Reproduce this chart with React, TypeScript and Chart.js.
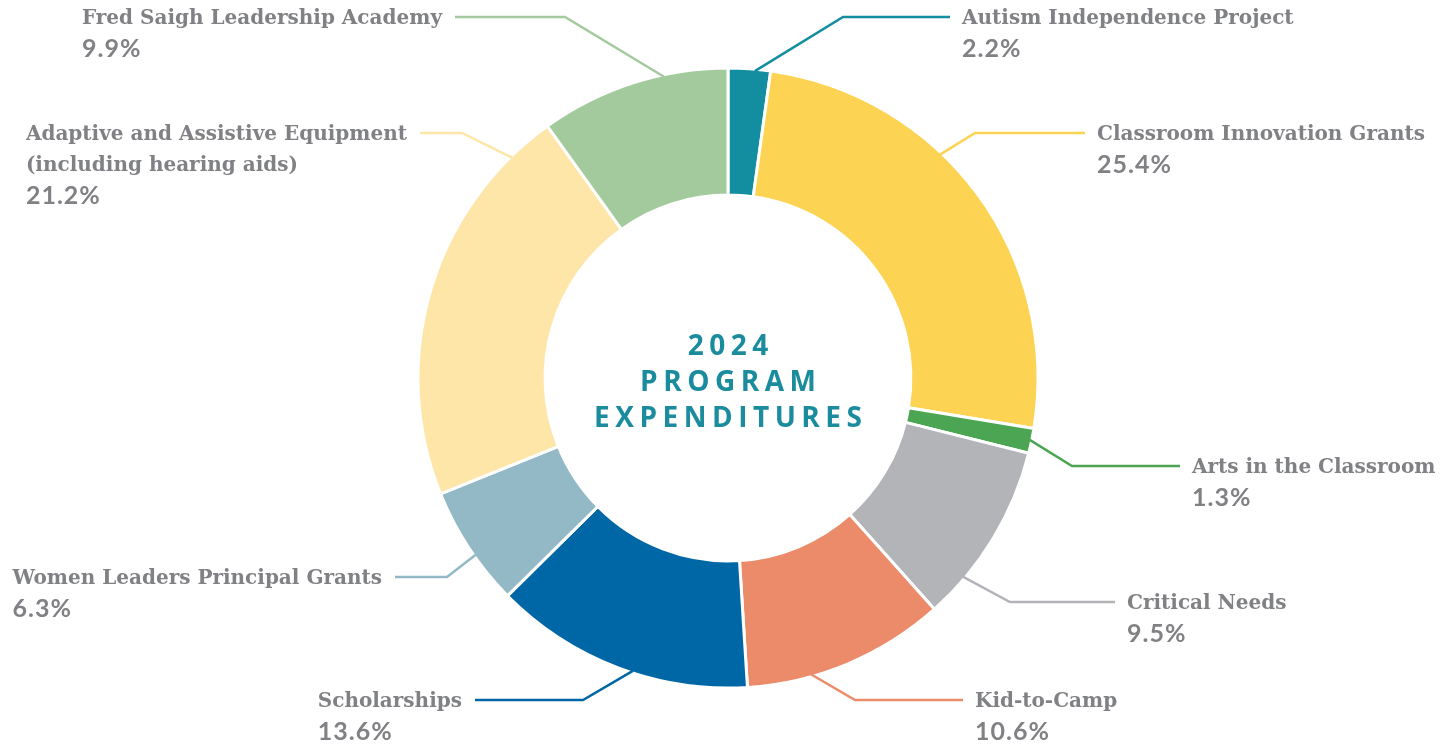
import { useEffect, useRef } from "react";
import { Chart, registerables } from "chart.js";

Chart.register(...registerables);

// ---- data ----
const categories = [
  "Autism Independence Project",
  "Classroom Innovation Grants",
  "Arts in the Classroom",
  "Critical Needs",
  "Kid-to-Camp",
  "Scholarships",
  "Women Leaders Principal Grants",
  "Adaptive and Assistive Equipment (including hearing aids)",
  "Fred Saigh Leadership Academy",
];
const labelLines = [
  ["Autism Independence Project"],
  ["Classroom Innovation Grants"],
  ["Arts in the Classroom"],
  ["Critical Needs"],
  ["Kid-to-Camp"],
  ["Scholarships"],
  ["Women Leaders Principal Grants"],
  ["Adaptive and Assistive Equipment", "(including hearing aids)"],
  ["Fred Saigh Leadership Academy"],
];
const values = [2.2, 25.4, 1.3, 9.5, 10.6, 13.6, 6.3, 21.2, 9.9];
const percentLabels = ["2.2%", "25.4%", "1.3%", "9.5%", "10.6%", "13.6%", "6.3%", "21.2%", "9.9%"];
const centerTitle = ["2024", "PROGRAM", "EXPENDITURES"];

// ---- styles / layout ----
const colors = ["#138DA0", "#FDD353", "#4BA553", "#B3B4B8", "#EC8B6A", "#0067A6", "#93B9C6", "#FEE6A8", "#A3CA9D"];
const leaderAngles = [5, 43.5, 101.6, 130.2, 164.3, 198, 235, 315.6, 348];
const leaderElbows = [
  [843, 17], [975, 133], [1072, 466], [1010, 602], [855, 700],
  [583, 700], [447, 577], [462, 133], [565, 17],
];
const leaderEnds = [950, 1085, 1180, 1115, 963, 475, 395, 420, 455];

const NAME_FONT = "bold 20px 'DejaVu Serif'";
const PCT_FONT = "bold 25px Lato";
const TEXT_GREY = "#808184";
const TITLE_COLOR = "#1A8C9E";

const labelPlugin = {
  id: "leaderLabels",
  afterDraw(chart: any) {
    const ctx = chart.ctx as CanvasRenderingContext2D;
    const meta = chart.getDatasetMeta(0);
    let cx = 0, cy = 0;
    meta.data.forEach((arc: any, i: number) => {
      const p = arc.getProps(["x", "y", "outerRadius"], true);
      cx = p.x; cy = p.y;
      const a = (leaderAngles[i] * Math.PI) / 180;
      const r = p.outerRadius - 2;
      const sx = p.x + r * Math.sin(a);
      const sy = p.y - r * Math.cos(a);
      const [ex, ey] = leaderElbows[i];
      const endX = leaderEnds[i];
      ctx.save();
      ctx.strokeStyle = colors[i];
      ctx.lineWidth = 2.5;
      ctx.beginPath();
      ctx.moveTo(sx, sy);
      ctx.lineTo(ex, ey);
      ctx.lineTo(endX, ey);
      ctx.stroke();

      const right = endX > ex;
      ctx.font = NAME_FONT;
      const lines = labelLines[i];
      const maxW = Math.max(...lines.map((l) => ctx.measureText(l).width));
      const tx = right ? endX + 12 : endX - 13 - maxW;
      ctx.textAlign = "left";
      ctx.textBaseline = "middle";
      ctx.fillStyle = TEXT_GREY;
      let ty = ey + 2;
      lines.forEach((l) => {
        ctx.fillText(l, tx, ty);
        ty += 31;
      });
      ctx.font = PCT_FONT;
      (ctx as any).letterSpacing = "1px";
      ctx.fillText(percentLabels[i], tx, ty - 1);
      ctx.restore();
    });

    // center title
    ctx.save();
    ctx.fillStyle = TITLE_COLOR;
    ctx.font = "bold 28px 'Open Sans'";
    ctx.textAlign = "center";
    ctx.textBaseline = "middle";
    const spacing = 5.5;
    (ctx as any).letterSpacing = spacing + "px";
    centerTitle.forEach((t, k) => {
      ctx.fillText(t, cx + spacing / 2, cy - 31 + k * 36);
    });
    ctx.restore();
  },
};

export default function App() {
  const ref = useRef<HTMLCanvasElement | null>(null);
  useEffect(() => {
    document.body.style.margin = "0";
    const chart = new Chart(ref.current!, {
      type: "doughnut",
      data: {
        labels: categories,
        datasets: [
          {
            data: values,
            backgroundColor: colors,
            borderColor: "#ffffff",
            borderWidth: 3,
          },
        ],
      },
      options: {
        responsive: false,
        animation: false,
        cutout: "59%",
        rotation: 0,
        layout: { padding: { top: 66.5, bottom: 55.5, left: 416.5, right: 412.5 } },
        plugins: { legend: { display: false }, tooltip: { enabled: false } },
      },
      plugins: [labelPlugin],
    });
    return () => chart.destroy();
  }, []);
  return (
    <div style={{ width: 1452, height: 745, background: "#fff" }}>
      <canvas ref={ref} width={1452} height={745} />
    </div>
  );
}
